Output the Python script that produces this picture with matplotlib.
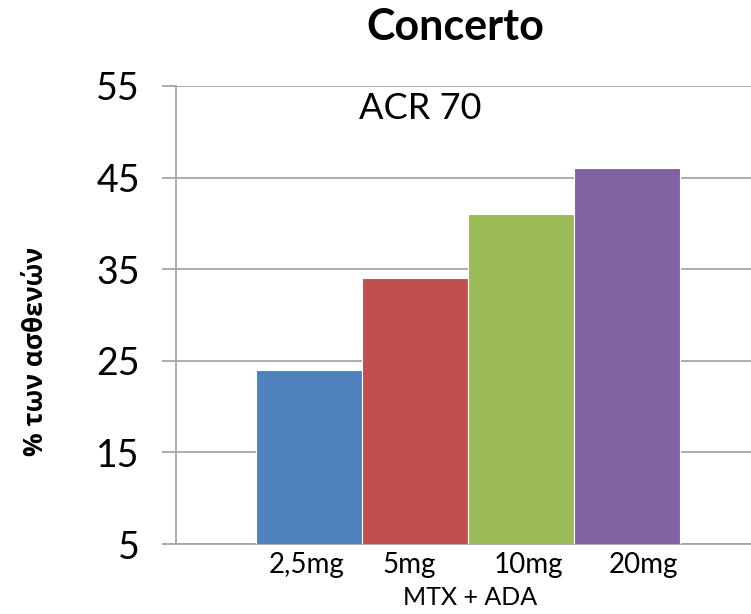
import numpy as np
import matplotlib
matplotlib.use("Agg")
import matplotlib.pyplot as plt

plt.rcParams['font.family'] = ['Lato', 'Open Sans', 'DejaVu Sans']

# ACR 70 response by dose group
doses = ['2,5mg', '5mg', '10mg', '20mg']
pct_patients = [24, 34, 41, 46]
bar_colors = ['#4F81BD', '#C0504D', '#9BBB59', '#8064A2']
yticks = [5, 15, 25, 35, 45, 55]

grid_col = '#A6A6A6'

fig = plt.figure(figsize=(7.51, 6.14), dpi=100)
ax = fig.add_axes([0.2344, 0.114, 0.8156, 0.746])

x = np.arange(len(doses))
ax.bar(x, pct_patients, width=1.0, bottom=0, color=bar_colors,
       edgecolor='white', linewidth=0.8, zorder=3)

ax.set_ylim(5, 55)
ax.set_xlim(-1.255, 4.52)
ax.set_yticks(yticks)
ax.yaxis.grid(True, color=grid_col, linewidth=1.3, zorder=0)
ax.tick_params(axis='y', length=10, width=1.3, color=grid_col,
               labelsize=27, pad=16)

# category labels sit slightly off the bar centres
label_shift = [-0.02, -0.06, 0.07, 0.15]
ax.set_xticks(x + np.array(label_shift))
ax.set_xticklabels(doses)
ax.tick_params(axis='x', length=0, labelsize=20, pad=6)

for side in ['top', 'right']:
    ax.spines[side].set_visible(False)
for side in ['left', 'bottom']:
    ax.spines[side].set_color(grid_col)
    ax.spines[side].set_linewidth(1.3)

# x label centred under the bars (axes runs past the right edge)
fig.text(0.626, 0.027, 'MTX + ADA', fontsize=18, ha='center', va='center')
ax.set_ylabel('% των ασθενών', fontsize=19, fontweight='bold',
              family=['Open Sans', 'DejaVu Sans'], labelpad=34, y=0.42)

ax.text(1.05, 52.5, 'ACR 70', fontsize=26, ha='center', va='center')
fig.text(0.606, 0.956, 'Concerto', fontsize=31, fontweight='bold',
         ha='center', va='center')

fig.savefig('out.png', dpi=100)
